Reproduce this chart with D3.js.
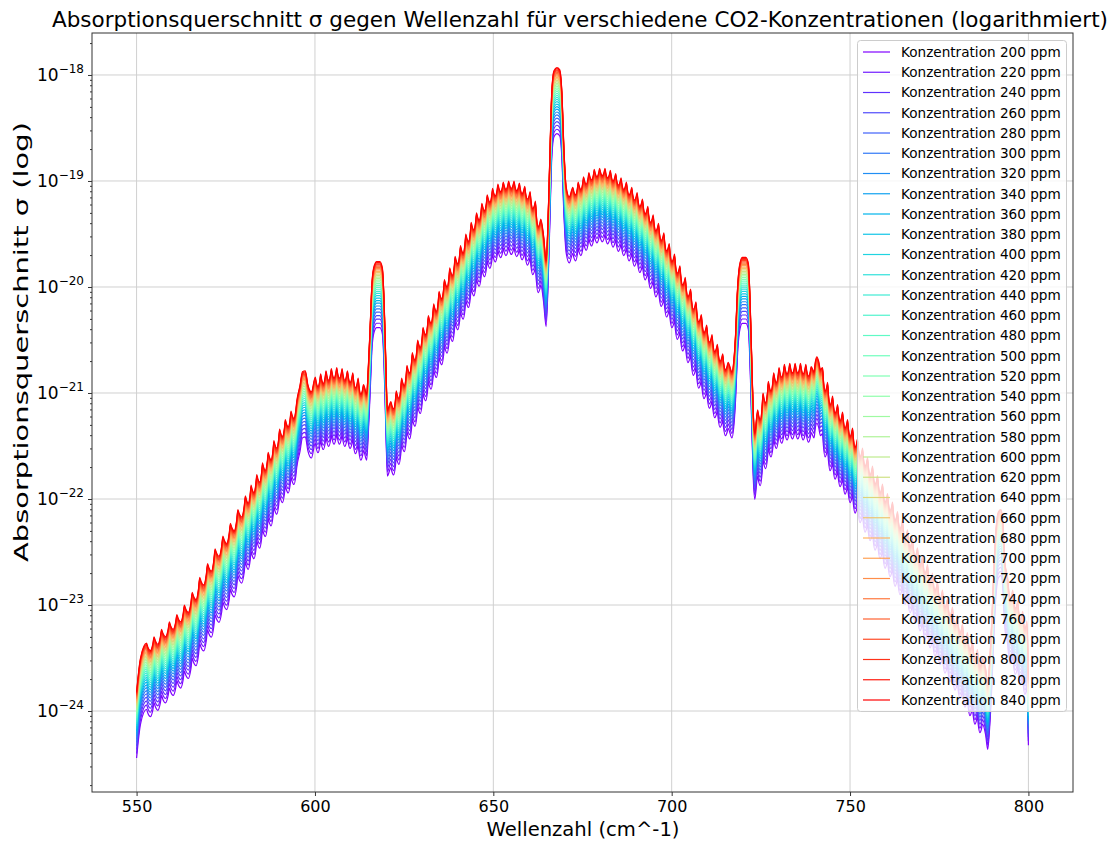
<!DOCTYPE html>
<html>
<head>
<meta charset="utf-8">
<title>Absorptionsquerschnitt</title>
<script src="https://cdn.jsdelivr.net/npm/d3@7"></script>
<style>
  body { margin: 0; padding: 0; background: #fff; }
  text { font-family: "DejaVu Sans", sans-serif; fill: #000; }
</style>
</head>
<body>
<div id="chart"></div>
<script>
// concentrations (ppm), one line each
const concentrations = [200, 220, 240, 260, 280, 300, 320, 340, 360, 380, 400, 420, 440, 460, 480, 500, 520,
  540, 560, 580, 600, 620, 640, 660, 680, 700, 720, 740, 760, 780, 800, 820, 840];
const xTicks = [550, 600, 650, 700, 750, 800];
const yExponents = [-18, -19, -20, -21, -22, -23, -24];

// 840 ppm curve, log10(sigma).
// [nu, peak, valley after] = rotational line, [nu, value] = plain point (Q branches, dips)
// the other concentrations lie below it by log10(c/840)
const spectrum840 = [
  [550.0, -23.82], [551.1, -23.50],
  [552.8, -23.36, -23.43], [554.9, -23.30, -23.37], [557.0, -23.23, -23.30], [559.2, -23.16, -23.23],
  [561.3, -23.09, -23.16], [563.4, -23.00, -23.07], [565.6, -22.88, -22.95], [567.7, -22.74, -22.81],
  [569.9, -22.61, -22.68], [572.0, -22.47, -22.54], [574.2, -22.35, -22.42], [576.3, -22.23, -22.30],
  [578.4, -22.10, -22.17], [580.5, -21.97, -22.04], [582.1, -21.87, -21.94], [583.7, -21.77, -21.84],
  [585.3, -21.66, -21.73], [586.9, -21.56, -21.63], [588.5, -21.45, -21.52], [590.1, -21.34, -21.41],
  [591.7, -21.25, -21.32], [593.3, -21.17, -21.24], [594.9, -21.08, -21.12],
  [595.8, -20.93], [596.5, -20.80], [597.3, -20.79], [598.0, -20.92], [599.0, -20.99],
  [600.1, -20.85, -20.94], [601.6, -20.82, -20.91], [603.1, -20.79, -20.88], [604.6, -20.77, -20.86],
  [606.1, -20.76, -20.86], [607.6, -20.77, -20.88], [609.1, -20.79, -20.90], [610.6, -20.81, -20.95],
  [612.1, -20.86, -21.01], [613.6, -20.92, -21.00],
  [614.5, -21.01], [614.9, -20.80], [615.5, -20.35], [616.0, -19.95], [616.6, -19.80], [617.3, -19.76],
  [618.2, -19.76], [618.9, -19.82], [619.4, -20.15], [619.9, -20.75], [620.3, -21.16],
  [621.3, -21.08, -21.15], [622.8, -20.98, -21.05], [624.3, -20.86, -20.93], [625.8, -20.74, -20.81],
  [627.3, -20.62, -20.69], [628.8, -20.50, -20.57], [630.3, -20.38, -20.45], [631.8, -20.27, -20.34],
  [633.3, -20.16, -20.23], [634.8, -20.04, -20.11], [636.3, -19.93, -20.00], [637.8, -19.82, -19.89],
  [639.3, -19.71, -19.78], [640.8, -19.61, -19.68], [642.3, -19.50, -19.57], [643.8, -19.39, -19.46],
  [645.3, -19.30, -19.37], [646.8, -19.21, -19.28], [648.3, -19.13, -19.20], [649.8, -19.07, -19.14],
  [651.3, -19.03, -19.10], [652.8, -19.01, -19.08], [654.3, -19.00, -19.07], [655.8, -19.00, -19.09],
  [657.3, -19.02, -19.12], [658.8, -19.05, -19.17], [660.3, -19.10, -19.26], [661.8, -19.19, -19.43],
  [663.3, -19.36, -19.50],
  [664.1, -19.52], [664.8, -19.75], [665.4, -19.30], [665.9, -18.70], [666.4, -18.15], [667.0, -17.96],
  [667.8, -17.93], [668.6, -17.95], [669.2, -18.15], [669.8, -18.70], [670.4, -19.05], [671.3, -19.15],
  [672.3, -19.06, -19.13], [673.8, -19.01, -19.08], [675.3, -18.96, -19.03], [676.8, -18.92, -18.99],
  [678.3, -18.89, -18.96], [679.8, -18.88, -18.95], [681.3, -18.88, -18.97], [682.8, -18.90, -19.00],
  [684.3, -18.93, -19.04], [685.8, -18.97, -19.08], [687.3, -19.01, -19.13], [688.8, -19.06, -19.18],
  [690.3, -19.11, -19.24], [691.8, -19.17, -19.31], [693.3, -19.24, -19.39], [694.8, -19.32, -19.47],
  [696.3, -19.40, -19.56], [697.8, -19.49, -19.66], [699.3, -19.59, -19.76], [700.8, -19.69, -19.87],
  [702.3, -19.80, -19.98], [703.8, -19.91, -20.09], [705.3, -20.02, -20.21], [706.8, -20.14, -20.33],
  [708.3, -20.26, -20.43], [709.8, -20.36, -20.52], [711.3, -20.45, -20.61], [712.8, -20.54, -20.70],
  [714.3, -20.63, -20.78], [715.8, -20.71, -20.80],
  [716.9, -20.80], [717.4, -20.70], [717.9, -20.45], [718.4, -20.05], [719.0, -19.80], [719.8, -19.72],
  [720.8, -19.72], [721.5, -19.78], [722.0, -20.15], [722.5, -20.75], [722.9, -21.20], [723.3, -21.38],
  [724.1, -21.16, -21.25], [725.6, -21.00, -21.09], [727.1, -20.89, -20.98], [728.6, -20.81, -20.90],
  [730.1, -20.76, -20.85], [731.6, -20.73, -20.82], [733.1, -20.72, -20.81], [734.6, -20.72, -20.81],
  [736.1, -20.72, -20.82], [737.6, -20.73, -20.84], [739.1, -20.75, -20.84],
  [739.9, -20.80], [740.3, -20.70], [740.7, -20.66], [741.2, -20.70], [741.7, -20.78],
  [742.3, -20.76, -20.98], [743.7, -20.90, -21.11], [745.1, -21.03, -21.19], [746.5, -21.11, -21.26],
  [747.9, -21.18, -21.33], [749.3, -21.25, -21.41], [750.7, -21.33, -21.51], [752.1, -21.43, -21.60],
  [753.5, -21.52, -21.69], [754.9, -21.61, -21.77], [756.3, -21.69, -21.86], [757.7, -21.78, -21.94],
  [759.1, -21.86, -22.03], [760.5, -21.95, -22.11], [761.9, -22.03, -22.20], [763.3, -22.12, -22.28],
  [764.7, -22.20, -22.37], [766.1, -22.29, -22.45], [767.5, -22.37, -22.54], [768.9, -22.46, -22.62],
  [770.3, -22.54, -22.70], [771.7, -22.62, -22.78], [773.1, -22.70, -22.86], [774.5, -22.78, -22.94],
  [775.9, -22.86, -23.02], [777.3, -22.94, -23.10], [778.7, -23.02, -23.18], [780.1, -23.10, -23.26],
  [781.5, -23.18, -23.34], [782.9, -23.26, -23.42], [784.3, -23.34, -23.50], [785.7, -23.42, -23.58],
  [787.1, -23.50, -23.60],
  [788.0, -23.60], [788.6, -23.74], [789.1, -23.55], [789.8, -23.10], [790.4, -22.60], [791.0, -22.25],
  [791.6, -22.12], [792.3, -22.10], [792.9, -22.25], [793.4, -22.60],
  [794.2, -22.75, -22.93], [795.6, -22.86, -23.03], [797.0, -22.96, -23.13], [798.4, -23.06, -23.22],
  [799.6, -23.15, -23.30],
  [800.0, -23.70]
];

const W = 1115, H = 842;
const plot = { left: 92, right: 1073, top: 33, bottom: 792 };

const svg = d3.select("#chart").append("svg")
  .attr("width", W).attr("height", H)
  .style("display", "block");

const x = d3.scaleLinear().domain([537.5, 812.5]).range([plot.left, plot.right]);
const y = d3.scaleLog().domain([Math.pow(10, -24.764), Math.pow(10, -17.604)]).range([plot.bottom, plot.top]);

// matplotlib "rainbow"
function rainbow(t) {
  const r = Math.min(1, Math.abs(2 * t - 0.5));
  const g = Math.sin(Math.PI * t);
  const b = Math.cos(Math.PI * t / 2);
  return d3.rgb(r * 255, g * 255, b * 255).formatHex();
}
const colors = concentrations.map((c, i) => rainbow(i / (concentrations.length - 1)));

// grid
const grid = svg.append("g");
xTicks.forEach(v => {
  grid.append("line").attr("x1", x(v)).attr("x2", x(v)).attr("y1", plot.top).attr("y2", plot.bottom)
    .attr("stroke", "#d0d0d0").attr("stroke-width", 1);
});
yExponents.forEach(e => {
  grid.append("line").attr("y1", y(Math.pow(10, e))).attr("y2", y(Math.pow(10, e)))
    .attr("x1", plot.left).attr("x2", plot.right)
    .attr("stroke", "#d0d0d0").attr("stroke-width", 1);
});

// turn the line list into path vertices: sharp line centres, round valleys between
function combPoints(rows) {
  const pts = [];
  rows.forEach((r, i) => {
    if (r.length === 2) { pts.push([r[0], r[1]]); return; }
    const prev = rows[i - 1], next = rows[i + 1];
    if (prev && prev.length === 3) {
      const h = (r[0] - prev[0]) * 0.16;
      pts.push([r[0] - h, prev[2] + 0.5 * (r[1] - prev[2])]);
    }
    pts.push([r[0], r[1]]);
    if (next && next.length === 3) {
      const h = (next[0] - r[0]) * 0.16;
      pts.push([r[0] + h, r[2] + 0.5 * (r[1] - r[2])]);
      pts.push([(r[0] + next[0]) / 2, r[2]]);
    }
  });
  return pts;
}
const pts840 = combPoints(spectrum840);

svg.append("clipPath").attr("id", "clip").append("rect")
  .attr("x", plot.left).attr("y", plot.top)
  .attr("width", plot.right - plot.left).attr("height", plot.bottom - plot.top);

const lines = svg.append("g").attr("clip-path", "url(#clip)");
concentrations.forEach((c, i) => {
  const shift = Math.log10(c / 840);
  const line = d3.line()
    .x(d => x(d[0]))
    .y(d => y(Math.pow(10, d[1] + shift)))
    .curve(d3.curveMonotoneX);
  lines.append("path")
    .attr("d", line(pts840))
    .attr("fill", "none")
    .attr("stroke", colors[i])
    .attr("stroke-width", 1.2)
    .attr("stroke-linejoin", "round");
});

// axes
const xAxis = svg.append("g").attr("transform", "translate(0," + plot.bottom + ")")
  .call(d3.axisBottom(x).tickValues(xTicks).tickSize(4).tickSizeOuter(0).tickPadding(5));
xAxis.selectAll("text").attr("font-size", 16).attr("font-family", "DejaVu Sans");
xAxis.select(".domain").remove();

const minorTicks = [];
for (let e = -25; e <= -18; e++) {
  for (let m = 2; m <= 9; m++) {
    const v = m * Math.pow(10, e);
    if (v > y.domain()[0] && v < y.domain()[1]) minorTicks.push(v);
  }
}
svg.append("g").attr("transform", "translate(" + plot.left + ",0)")
  .call(d3.axisLeft(y).tickValues(minorTicks).tickSize(2).tickFormat(""))
  .call(g => g.select(".domain").remove());
svg.append("g").attr("transform", "translate(" + plot.left + ",0)")
  .call(d3.axisLeft(y).tickValues(yExponents.map(e => Math.pow(10, e))).tickSize(4).tickFormat(""))
  .call(g => g.select(".domain").remove());

svg.selectAll(".tick line").attr("stroke", "#000").attr("stroke-width", 0.8);

const yLabels = svg.append("g");
yExponents.forEach(e => {
  const t = yLabels.append("text")
    .attr("x", plot.left - 8)
    .attr("y", y(Math.pow(10, e)) + 6)
    .attr("text-anchor", "end")
    .attr("font-size", 17)
    .text("10");
  t.append("tspan").attr("dy", -8).attr("font-size", 12).text("\u2212" + Math.abs(e));
});

// frame
svg.append("rect")
  .attr("x", plot.left).attr("y", plot.top)
  .attr("width", plot.right - plot.left).attr("height", plot.bottom - plot.top)
  .attr("fill", "none").attr("stroke", "#333").attr("stroke-width", 1);

// labels
svg.append("text").attr("x", 580).attr("y", 27).attr("text-anchor", "middle").attr("font-size", 21.5)
  .attr("textLength", 1056).attr("lengthAdjust", "spacingAndGlyphs")
  .text("Absorptionsquerschnitt \u03c3 gegen Wellenzahl f\u00fcr verschiedene CO2-Konzentrationen (logarithmiert)");
svg.append("text").attr("x", 583).attr("y", 836).attr("text-anchor", "middle")
  .attr("font-size", 20).attr("textLength", 193).attr("lengthAdjust", "spacingAndGlyphs")
  .text("Wellenzahl (cm^-1)");
svg.append("text").attr("transform", "translate(28,342) rotate(-90)").attr("text-anchor", "middle")
  .attr("font-size", 20).attr("textLength", 440).attr("lengthAdjust", "spacingAndGlyphs")
  .text("Absorptionsquerschnitt \u03c3 (log)");

// legend
const lg = svg.append("g");
lg.append("rect").attr("x", 857.5).attr("y", 40.5).attr("width", 209).attr("height", 671).attr("rx", 3)
  .attr("fill", "#fff").attr("fill-opacity", 0.8).attr("stroke", "#cccccc");
concentrations.forEach((c, i) => {
  const ry = 52 + i * 20.25;
  lg.append("line").attr("x1", 863).attr("x2", 890).attr("y1", ry).attr("y2", ry)
    .attr("stroke", colors[i]).attr("stroke-width", 1.2);
  lg.append("text").attr("x", 901).attr("y", ry + 4.8).attr("font-size", 13.6)
    .text("Konzentration " + c + " ppm");
});
</script>
</body>
</html>
